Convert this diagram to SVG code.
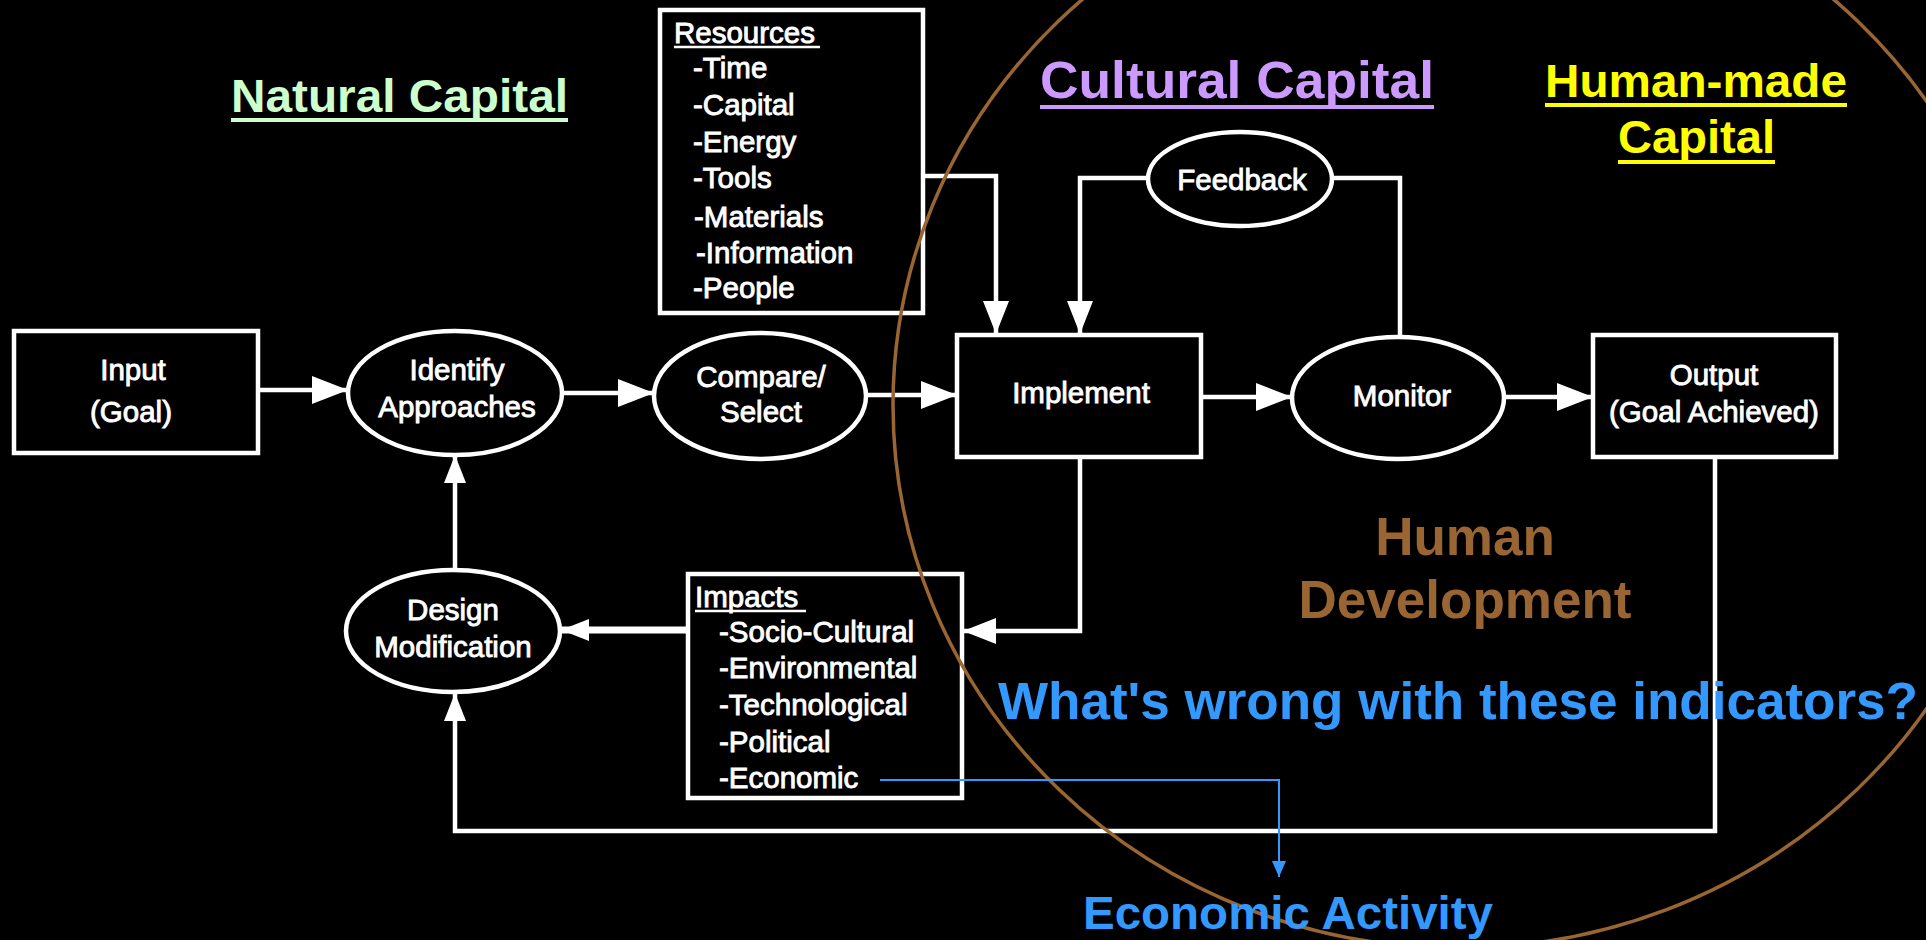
<svg xmlns="http://www.w3.org/2000/svg" width="1926" height="940" viewBox="0 0 1926 940">
<defs>
<style>
.box{fill:#000;stroke:#fff;stroke-width:4.5}
.ell{fill:#000;stroke:#fff;stroke-width:4.5}
.ln{fill:none;stroke:#fff;stroke-width:4.5;stroke-linejoin:miter}
.lbl{font-family:"Liberation Sans",Arial,sans-serif;font-size:29.5px;fill:#fff;stroke:#fff;stroke-width:0.9;text-anchor:middle}
.lst{font-family:"Liberation Sans",Arial,sans-serif;font-size:29.5px;fill:#fff;stroke:#fff;stroke-width:0.9}
.ttl{font-family:"Liberation Sans",Arial,sans-serif;font-weight:bold}
</style>
<marker id="aBig" markerUnits="userSpaceOnUse" markerWidth="36" markerHeight="28" refX="36" refY="14" orient="auto" viewBox="0 0 36 28">
<path d="M0,0 L36,14 L0,28 z" fill="#fff"/>
</marker>
<marker id="aMid" markerUnits="userSpaceOnUse" markerWidth="33" markerHeight="26" refX="33" refY="13" orient="auto" viewBox="0 0 33 26">
<path d="M0,0 L33,13 L0,26 z" fill="#fff"/>
</marker>
<marker id="aSm" markerUnits="userSpaceOnUse" markerWidth="28" markerHeight="22" refX="28" refY="11" orient="auto" viewBox="0 0 28 22">
<path d="M0,0 L28,11 L0,22 z" fill="#fff"/>
</marker>
<marker id="aBlue" markerUnits="userSpaceOnUse" markerWidth="16" markerHeight="14" refX="16" refY="7" orient="auto" viewBox="0 0 16 14">
<path d="M0,0 L16,7 L0,14 z" fill="#3399ff"/>
</marker>
</defs>
<rect x="0" y="0" width="1926" height="940" fill="#000"/>

<g id="connectors">
<line class="ln" x1="258" y1="390" x2="348" y2="390" marker-end="url(#aBig)"/>
<line class="ln" x1="563" y1="393" x2="654" y2="393" marker-end="url(#aBig)"/>
<line class="ln" x1="866" y1="395" x2="957" y2="395" marker-end="url(#aBig)"/>
<line class="ln" x1="1201" y1="397" x2="1292" y2="397" marker-end="url(#aBig)"/>
<line class="ln" x1="1504" y1="397" x2="1593" y2="397" marker-end="url(#aBig)"/>
<polyline class="ln" points="923,176 996,176 996,334" marker-end="url(#aMid)"/>
<polyline class="ln" points="1148,178 1080,178 1080,334" marker-end="url(#aMid)"/>
<polyline class="ln" points="1333,178 1400,178 1400,337"/>
<polyline class="ln" points="1080,457 1080,631 963,631" marker-end="url(#aMid)"/>
<line class="ln" x1="689" y1="630" x2="561" y2="630" style="stroke-width:7" marker-end="url(#aSm)"/>
<line class="ln" x1="455" y1="570" x2="455" y2="455" marker-end="url(#aSm)"/>
<polyline class="ln" points="1715,457 1715,831 455,831 455,693" marker-end="url(#aSm)"/>
</g>

<g id="input">
<rect class="box" x="14" y="331" width="244" height="122"/>
<text class="lbl" x="133" y="380">Input</text>
<text class="lbl" x="131" y="422">(Goal)</text>
</g>
<g id="identify">
<ellipse class="ell" cx="455" cy="393" rx="107" ry="62"/>
<text class="lbl" x="457" y="380">Identify</text>
<text class="lbl" x="457" y="417">Approaches</text>
</g>
<g id="compare">
<ellipse class="ell" cx="760" cy="396" rx="106" ry="63"/>
<text class="lbl" x="761" y="387">Compare/</text>
<text class="lbl" x="761" y="422">Select</text>
</g>
<g id="implement">
<rect class="box" x="957" y="335" width="244" height="122"/>
<text class="lbl" x="1081" y="403">Implement</text>
</g>
<g id="monitor">
<ellipse class="ell" cx="1398" cy="398" rx="106" ry="61"/>
<text class="lbl" x="1402" y="406">Monitor</text>
</g>
<g id="output">
<rect class="box" x="1593" y="335" width="243" height="122"/>
<text class="lbl" x="1714" y="385">Output</text>
<text class="lbl" x="1714" y="422">(Goal Achieved)</text>
</g>
<g id="feedback">
<ellipse class="ell" cx="1240" cy="179" rx="92" ry="47"/>
<text class="lbl" x="1242" y="190">Feedback</text>
</g>
<g id="resources">
<rect class="box" x="660" y="10" width="263" height="303"/>
<text class="lst" x="674" y="43">Resources</text>
<line x1="674" y1="47" x2="820" y2="47" stroke="#fff" stroke-width="2.5"/>
<text class="lst" x="693" y="78">-Time</text>
<text class="lst" x="693" y="115">-Capital</text>
<text class="lst" x="693" y="152">-Energy</text>
<text class="lst" x="693" y="188">-Tools</text>
<text class="lst" x="694" y="227">-Materials</text>
<text class="lst" x="696" y="263">-Information</text>
<text class="lst" x="693" y="298">-People</text>
</g>
<g id="impacts">
<rect class="box" x="688" y="574" width="274" height="224"/>
<text class="lst" x="695" y="607">Impacts</text>
<line x1="695" y1="611" x2="806" y2="611" stroke="#fff" stroke-width="2.5"/>
<text class="lst" x="719" y="642">-Socio-Cultural</text>
<text class="lst" x="719" y="678">-Environmental</text>
<text class="lst" x="719" y="715">-Technological</text>
<text class="lst" x="719" y="752">-Political</text>
<text class="lst" x="719" y="788">-Economic</text>
</g>
<g id="design">
<ellipse class="ell" cx="453" cy="631" rx="107" ry="61"/>
<text class="lbl" x="453" y="620">Design</text>
<text class="lbl" x="453" y="657">Modification</text>
</g>

<g id="human-development-circle">
<ellipse cx="1458" cy="405" rx="565" ry="543" fill="none" stroke="#996633" stroke-width="3.5"/>
</g>

<g id="labels">
<text class="ttl" x="231" y="112" font-size="46" fill="#ccffcc" textLength="337" lengthAdjust="spacingAndGlyphs">Natural Capital</text>
<rect x="231" y="118" width="337" height="4" fill="#ccffcc"/>
<text class="ttl" x="1040" y="98" font-size="52" fill="#cc99ff" textLength="394" lengthAdjust="spacingAndGlyphs">Cultural Capital</text>
<rect x="1040" y="105" width="394" height="4" fill="#cc99ff"/>
<text class="ttl" x="1545" y="97" font-size="47" fill="#ffff00" textLength="302" lengthAdjust="spacingAndGlyphs">Human-made</text>
<rect x="1545" y="103" width="302" height="4" fill="#ffff00"/>
<text class="ttl" x="1618" y="153" font-size="47" fill="#ffff00" textLength="157" lengthAdjust="spacingAndGlyphs">Capital</text>
<rect x="1618" y="160" width="157" height="4" fill="#ffff00"/>
<text class="ttl" x="1465" y="555" font-size="53" fill="#996633" text-anchor="middle">Human</text>
<text class="ttl" x="1465" y="618" font-size="53" fill="#996633" text-anchor="middle" textLength="333" lengthAdjust="spacingAndGlyphs">Development</text>
<text class="ttl" x="998" y="719" font-size="51" fill="#3399ff" textLength="920" lengthAdjust="spacingAndGlyphs">What's wrong with these indicators?</text>
<text class="ttl" x="1083" y="929" font-size="47" fill="#3399ff" textLength="410" lengthAdjust="spacingAndGlyphs">Economic Activity</text>
</g>

<g id="economic-link">
<polyline points="880,780 1279,780 1279,877" fill="none" stroke="#3399ff" stroke-width="2" marker-end="url(#aBlue)"/>
</g>
</svg>
